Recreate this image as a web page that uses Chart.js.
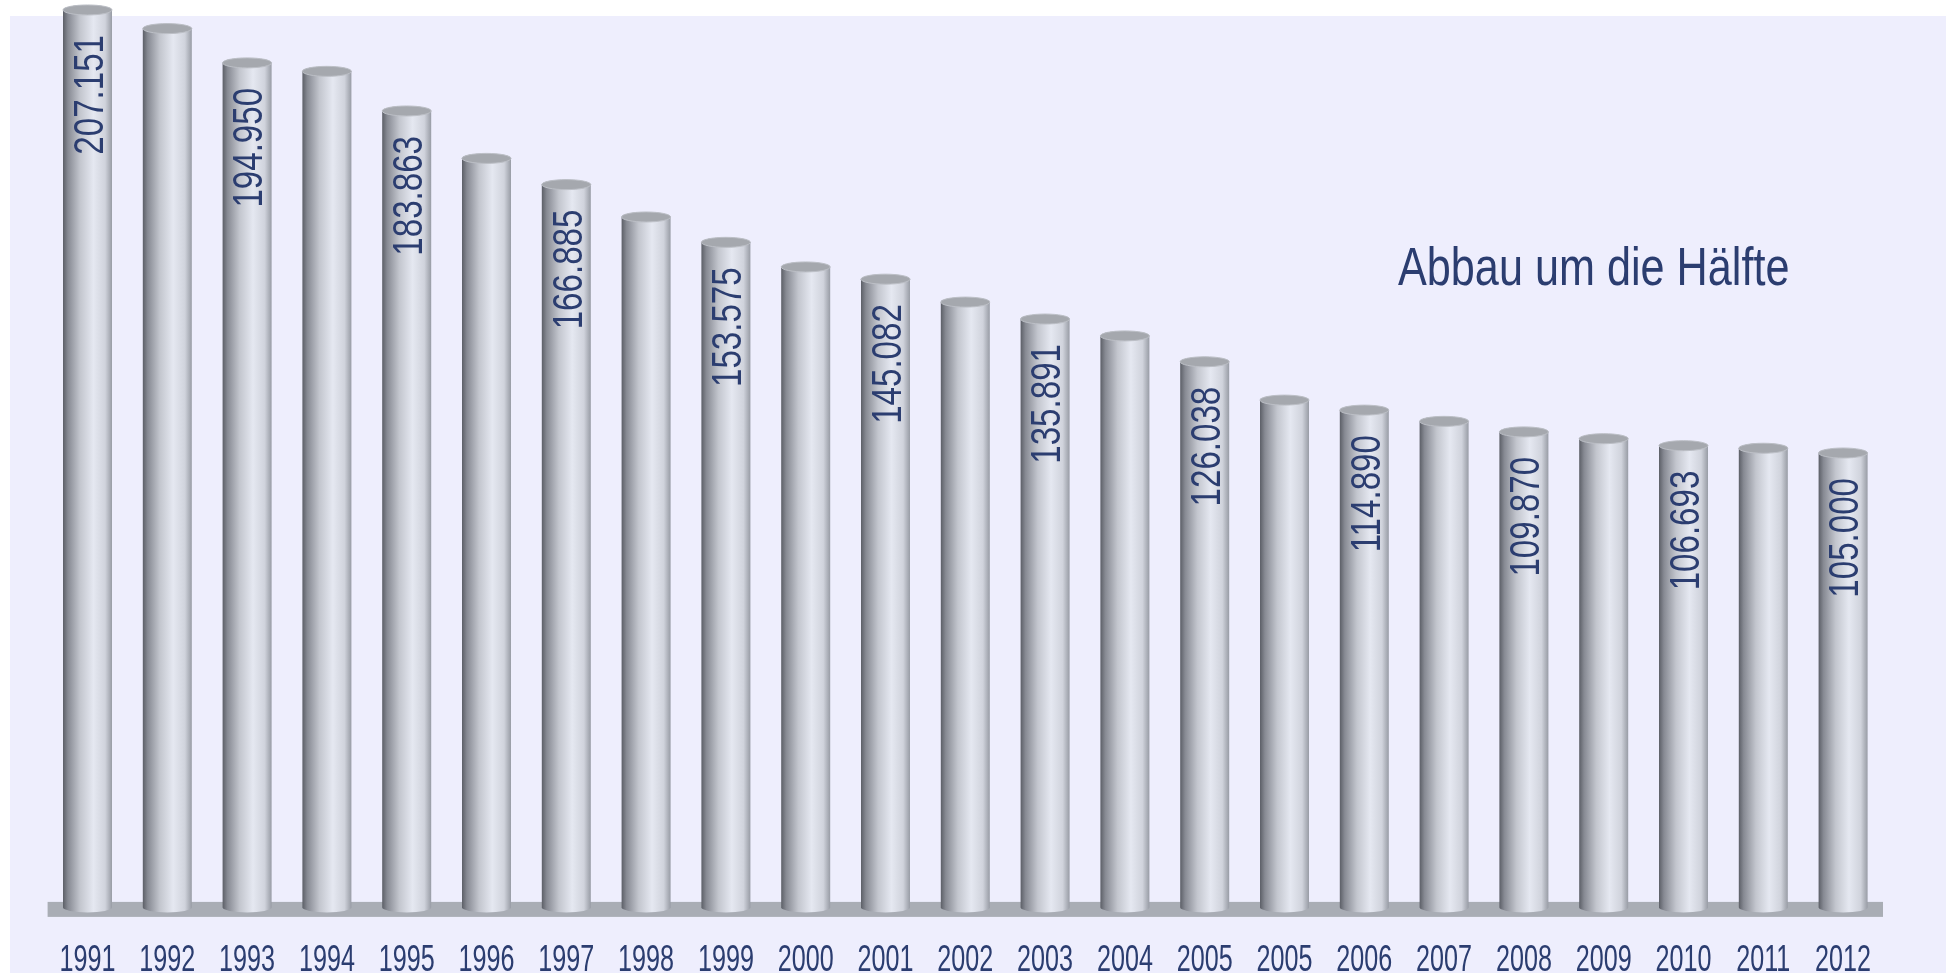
<!DOCTYPE html>
<html>
<head>
<meta charset="utf-8">
<script src="https://cdn.jsdelivr.net/npm/chart.js@4.4.1/dist/chart.umd.min.js"></script>
<style>
  html, body { margin: 0; padding: 0; background: #fff; overflow: hidden; }
  #wrap { position: relative; width: 1956px; height: 973px; }
</style>
</head>
<body>
<div id="wrap"><canvas id="chart"></canvas></div>
<script>
// Jahre (2005 kommt im Original zweimal vor)
const years = ['1991', '1992', '1993', '1994', '1995', '1996', '1997', '1998', '1999', '2000',
  '2001', '2002', '2003', '2004', '2005', '2005', '2006', '2007', '2008', '2009', '2010', '2011', '2012'];
const values = [207151, 202860, 194950, 193000, 183863, 172930, 166885, 159420, 153575, 147900,
  145082, 139800, 135891, 132000, 126038, 117200, 114890, 112300, 109870, 108300, 106693, 106100, 105000];
const labelEvery = 2; // jeder zweite Balken bekommt eine Zahl
const noteText = 'Abbau um die Hälfte';
const yMax = 209450;

// keine schmale Schrift installiert -> normale Schrift horizontal stauchen
const FONT = '"Liberation Sans", Arial, sans-serif';
const TEXT_COLOR = '#2b3d70';

function condensedText(ctx, txt, x, y, sx) {
  ctx.save();
  ctx.translate(x, y);
  ctx.scale(sx, 1);
  ctx.fillText(txt, 0, 0);
  ctx.restore();
}

function cylinder(ctx, x, top, base, w) {
  const l = x - w / 2, r = x + w / 2, ry = 5;
  const g = ctx.createLinearGradient(l, 0, r, 0);
  g.addColorStop(0, '#5c5f67');
  g.addColorStop(0.1, '#878a93');
  g.addColorStop(0.35, '#c3c6ce');
  g.addColorStop(0.62, '#e5e8f1');
  g.addColorStop(0.86, '#d0d3dc');
  g.addColorStop(1, '#989ca5');
  ctx.beginPath();
  ctx.moveTo(l, top);
  ctx.lineTo(l, base - 1);
  ctx.ellipse(x, base - 1, w / 2, ry, 0, Math.PI, 0, true);
  ctx.lineTo(r, top);
  ctx.ellipse(x, top, w / 2, ry, 0, 0, Math.PI, true);
  ctx.closePath();
  ctx.fillStyle = g;
  ctx.fill();
  // Deckel
  ctx.beginPath();
  ctx.ellipse(x, top, w / 2, ry, 0, 0, Math.PI * 2);
  ctx.fillStyle = '#a5a8ae';
  ctx.fill();
  ctx.lineWidth = 1;
  ctx.strokeStyle = '#bcbfc6';
  ctx.stroke();
}

const cylinderPlugin = {
  id: 'cylinders',
  beforeDraw(chart) {
    const ctx = chart.ctx;
    ctx.save();
    ctx.fillStyle = '#ffffff';
    ctx.fillRect(0, 0, chart.width, chart.height);
    ctx.fillStyle = '#eeeefd';
    ctx.fillRect(10, 16, 1936, chart.height - 16);
    ctx.restore();
  },
  beforeDatasetsDraw(chart) {
    const ctx = chart.ctx;
    const a = chart.chartArea;
    ctx.save();
    ctx.fillStyle = '#a9adb5';
    ctx.fillRect(a.left, a.bottom - 6.5, a.right - a.left, 15);
    ctx.restore();
  },
  afterDatasetsDraw(chart) {
    const ctx = chart.ctx;
    const meta = chart.getDatasetMeta(0);
    ctx.save();
    meta.data.forEach((bar) => {
      cylinder(ctx, bar.x, bar.y, bar.base, bar.width);
    });
    // Zahlen senkrecht im Balken
    const size = 43;
    ctx.font = size + 'px ' + FONT;
    ctx.fillStyle = TEXT_COLOR;
    ctx.textAlign = 'right';
    ctx.textBaseline = 'alphabetic';
    meta.data.forEach((bar, i) => {
      if (i % labelEvery !== 0) return;
      const txt = values[i].toLocaleString('de-DE');
      ctx.save();
      ctx.translate(bar.x, bar.y + 25);
      ctx.rotate(-Math.PI / 2);
      ctx.scale(0.77, 1);
      ctx.fillText(txt, 0, size * 0.358);
      ctx.restore();
    });
    ctx.font = '54px ' + FONT;
    ctx.textAlign = 'left';
    condensedText(ctx, noteText, 1398, 285, 0.8);
    ctx.restore();
  },
  afterDraw(chart) {
    // Jahreszahlen an den Positionen der x-Achse, gestaucht
    const ctx = chart.ctx;
    const xs = chart.scales.x;
    ctx.save();
    ctx.font = '37px ' + FONT;
    ctx.fillStyle = TEXT_COLOR;
    ctx.textAlign = 'center';
    ctx.textBaseline = 'alphabetic';
    xs.ticks.forEach((t, i) => {
      condensedText(ctx, xs.getLabelForValue(t.value), xs.getPixelForTick(i), 970.5, 0.68);
    });
    ctx.restore();
  }
};

const ctx = document.getElementById('chart').getContext('2d');
new Chart(ctx, {
  type: 'bar',
  data: {
    labels: years,
    datasets: [{
      data: values,
      backgroundColor: 'rgba(0,0,0,0)',
      borderWidth: 0,
      categoryPercentage: 1,
      barPercentage: 0.614
    }]
  },
  options: {
    responsive: true,
    maintainAspectRatio: false,
    animation: false,
    layout: { padding: { left: 47.6, right: 73, top: 0, bottom: 0 } },
    plugins: { legend: { display: false }, tooltip: { enabled: false } },
    scales: {
      x: {
        grid: { display: false, drawTicks: false },
        border: { display: false },
        ticks: {
          autoSkip: false,
          maxRotation: 0,
          padding: 30,
          color: 'rgba(0,0,0,0)',
          font: { family: FONT, size: 20, lineHeight: 1 }
        },
        afterFit(scale) { scale.height = 64.6; }
      },
      y: { display: false, min: 0, max: yMax }
    }
  },
  plugins: [cylinderPlugin]
});
</script>
</body>
</html>
